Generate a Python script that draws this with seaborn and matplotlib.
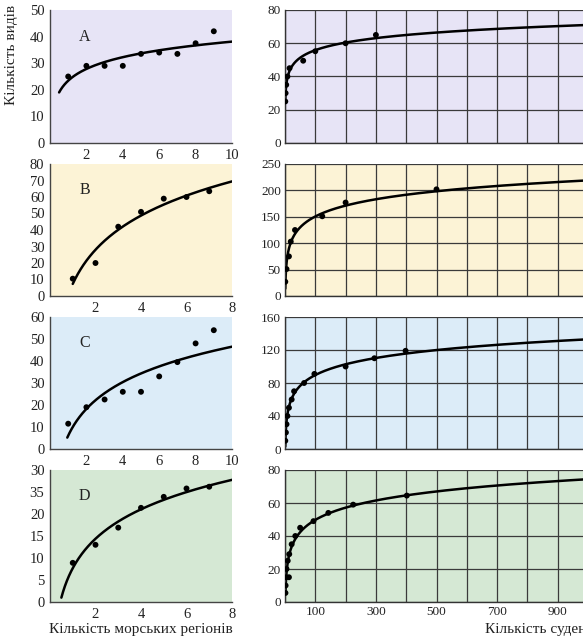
import numpy as np
import matplotlib
matplotlib.use("Agg")
import matplotlib.pyplot as plt
import seaborn as sns

# left column: number of species vs number of sea regions
regions_a = [1, 2, 3, 4, 5, 6, 7, 8, 9]
species_a = [25, 29, 29, 29, 33.5, 34, 33.5, 37.5, 42]
regions_b = [1, 2, 3, 4, 5, 6, 7]
species_b = [10.5, 20, 42, 51, 59, 60, 63.5]
regions_c = [1, 2, 3, 4, 5, 6, 7, 8, 9]
species_c = [11.5, 19, 22.5, 26, 26, 33, 39.5, 48, 54]
regions_d = [1, 2, 3, 4, 5, 6, 7]
species_d = [8.9, 13, 16.9, 21.4, 23.9, 25.8, 26.2]

# right column: number of species vs number of ships
ships_a = [1, 2, 4, 8, 15, 60, 100, 200, 300]
species_ships_a = [25, 30, 35, 40, 45, 49.5, 55.2, 60, 65]
ships_b = [1, 5, 13, 19, 33, 123, 200, 500]
species_ships_b = [27, 51, 75, 103, 125, 151, 177, 202]
ships_c = [1, 3, 5, 8, 13, 22, 30, 63, 97, 200, 295, 398]
species_ships_c = [10, 20, 30, 40, 50, 60, 70, 80, 91, 100, 110, 119]
ships_d = [1.5, 2, 4, 13, 5, 9, 14, 22, 34, 50, 94, 143, 225, 402]
species_ships_d = [5.5, 10, 15, 15, 20, 25, 29, 35, 40, 45, 49, 54, 59, 64.5]

panel_letters = ["A", "B", "C", "D"]
left_yticks = [list(range(0, 51, 10)), list(range(0, 81, 10)),
               list(range(0, 61, 10)), list(range(0, 31, 5))]
left_ylabels_d = ["0", "5", "10", "15", "20", "35", "30"]
left_xmax = [10, 8, 10, 8]
right_yticks = [list(range(0, 81, 20)), list(range(0, 251, 50)),
                list(range(0, 161, 40)), list(range(0, 81, 20))]
ship_ticks = list(range(0, 1001, 100))

backgrounds = ["#e7e4f6", "#fcf3d6", "#dcecf8", "#d5e8d4"]
curve_left_from = [0.5, 1.0, 0.95, 0.5]
curve_right_from = [1, 1, 1, 1.5]


def log_fit(x, y, x_from, x_to):
    b, a = np.polyfit(np.log(x), y, 1)
    grid = np.geomspace(x_from, x_to, 400)
    return grid, a + b * np.log(grid)


sns.set_style("white")
plt.rcParams["font.family"] = ["Liberation Serif", "DejaVu Serif"]

fig = plt.figure(figsize=(5.83, 6.41), dpi=100)

tops = [10, 164, 317, 470]
bottoms = [143, 296, 449, 602]

left_data = [(regions_a, species_a), (regions_b, species_b),
             (regions_c, species_c), (regions_d, species_d)]
right_data = [(ships_a, species_ships_a), (ships_b, species_ships_b),
              (ships_c, species_ships_c), (ships_d, species_ships_d)]

for i in range(4):
    b = 1 - bottoms[i] / 641
    h = (bottoms[i] - tops[i]) / 641

    # left panel
    ax = fig.add_axes([50 / 583, b, 182 / 583, h])
    ax.set_facecolor(backgrounds[i])
    x, y = left_data[i]
    gx, gy = log_fit(x, y, curve_left_from[i], left_xmax[i])
    sns.lineplot(x=gx, y=gy, ax=ax, color="black", lw=1.8, estimator=None, sort=False)
    sns.scatterplot(x=x, y=y, ax=ax, color="black", s=18, edgecolor="none", zorder=3)
    ax.set_xlim(0, left_xmax[i])
    ax.set_ylim(left_yticks[i][0], left_yticks[i][-1])
    ax.set_xticks(list(range(2, left_xmax[i] + 1, 2)))
    ax.set_yticks(left_yticks[i])
    if i == 3:
        ax.set_yticklabels(left_ylabels_d)
    ax.tick_params(length=0, labelsize=10.5, pad=4, colors="#222222")
    for side in ["top", "right"]:
        ax.spines[side].set_visible(False)
    for side in ["left", "bottom"]:
        ax.spines[side].set_color("#444444")
        ax.spines[side].set_linewidth(1.0)
    ax.text(0.19, 0.80, panel_letters[i], transform=ax.transAxes,
            fontsize=11.5, ha="center", va="center", color="#222222")

    # right panel
    ax = fig.add_axes([285 / 583, b, 303 / 583, h])
    ax.set_facecolor(backgrounds[i])
    x, y = right_data[i]
    gx, gy = log_fit(x, y, curve_right_from[i], 1000)
    sns.lineplot(x=gx, y=gy, ax=ax, color="black", lw=1.8, estimator=None, sort=False)
    sns.scatterplot(x=x, y=y, ax=ax, color="black", s=18, edgecolor="none", zorder=3)
    ax.set_xlim(0, 1000)
    ax.set_ylim(right_yticks[i][0], right_yticks[i][-1])
    ax.set_xticks(ship_ticks)
    if i == 3:
        ax.set_xticklabels(["" if t % 200 == 0 else str(t) for t in ship_ticks])
    else:
        ax.set_xticklabels([""] * len(ship_ticks))
    ax.set_yticks(right_yticks[i])
    ax.set_axisbelow(True)
    ax.grid(True, color="#3a3a3a", lw=0.9)
    ax.tick_params(length=0, labelsize=9.5, pad=3, colors="#222222")
    for side in ["top", "right"]:
        ax.spines[side].set_visible(False)
    for side in ["left", "bottom"]:
        ax.spines[side].set_color("#333333")
        ax.spines[side].set_linewidth(1.0)

fig.text(12 / 583, 1 - 55 / 641, "Кількість видів", rotation=90,
         ha="center", va="center", fontsize=11, color="#222222")
fig.text(141 / 583, 1 - 630 / 641, "Кількість морських регіонів",
         ha="center", va="center", fontsize=11, color="#222222")
fig.text(485 / 583, 1 - 630 / 641, "Кількість суден",
         ha="left", va="center", fontsize=11, color="#222222")

fig.savefig("out.png", dpi=100)
